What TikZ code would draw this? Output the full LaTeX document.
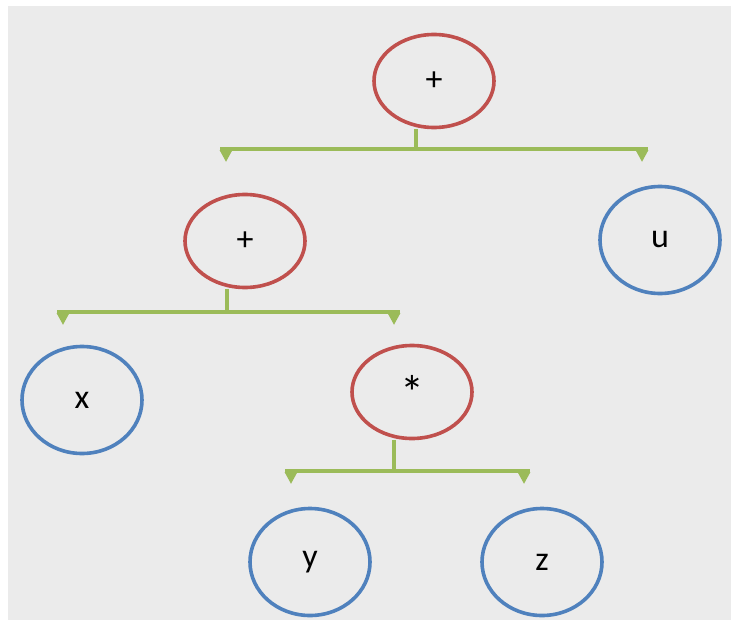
\documentclass[tikz,border=0pt]{standalone}
\usepackage{fontspec}
\setmainfont{Carlito}
\usetikzlibrary{shapes.geometric,arrows.meta}

\definecolor{opred}{RGB}{192,80,77}
\definecolor{leafblue}{RGB}{79,129,189}
\definecolor{linkgreen}{RGB}{155,187,89}
\definecolor{granite}{RGB}{235,235,235}

\begin{document}
\begin{tikzpicture}[x=1pt,y=-1pt,
  op/.style={ellipse,draw=opred,line width=3.6pt,minimum width=120pt,minimum height=93pt,inner sep=0pt,font=\fontsize{34}{40}\selectfont},
  leaf/.style={ellipse,draw=leafblue,line width=3.6pt,minimum width=120pt,minimum height=107pt,inner sep=0pt,font=\fontsize{34}{40}\selectfont},
  link/.style={draw=linkgreen,line width=3.6pt},
  stub/.style={draw=linkgreen,line width=3.6pt,-{Triangle[width=12pt,length=12pt]}}]
  % background
  \useasboundingbox (0,0) rectangle (733,623);
  \fill[granite] (8,6) rectangle (731,620);
  % bar ends (where the tips hang)
  \coordinate (a1) at (226,149);
  \coordinate (a2) at (642,149);
  \coordinate (b1) at (63,312);
  \coordinate (b2) at (394,312);
  \coordinate (c1) at (291,471);
  \coordinate (c2) at (524,471);
  % nodes
  \node[op] (root) at (434,81) {+};
  \node[op] (sum) at (245,241) {+};
  \node[op] (prod) at (412,392) {\fontsize{48}{50}\selectfont *};
  \node[leaf] (u) at (660,240) {u};
  \node[leaf] (x) at (82,400) {x};
  \node[leaf] (y) at (310,562) {y};
  \node[leaf] (z) at (542,562) {z};
  % stems from each operator down to its bar
  \draw[link] ([xshift=-18pt]root.south) -- ([xshift=-18pt]root.south |- a1);
  \draw[link] ([xshift=-18pt]sum.south) -- ([xshift=-18pt]sum.south |- b1);
  \draw[link] ([xshift=-18pt]prod.south) -- ([xshift=-18pt]prod.south |- c1);
  % bars
  \draw[link] ([xshift=-6pt]a1) -- ([xshift=6pt]a2);
  \draw[link] ([xshift=-6pt]b1) -- ([xshift=6pt]b2);
  \draw[link] ([xshift=-6pt]c1) -- ([xshift=6pt]c2);
  % tips
  \foreach \t in {a1,a2,b1,b2,c1,c2} \draw[stub] (\t) -- ++(0,13);
\end{tikzpicture}
\end{document}
